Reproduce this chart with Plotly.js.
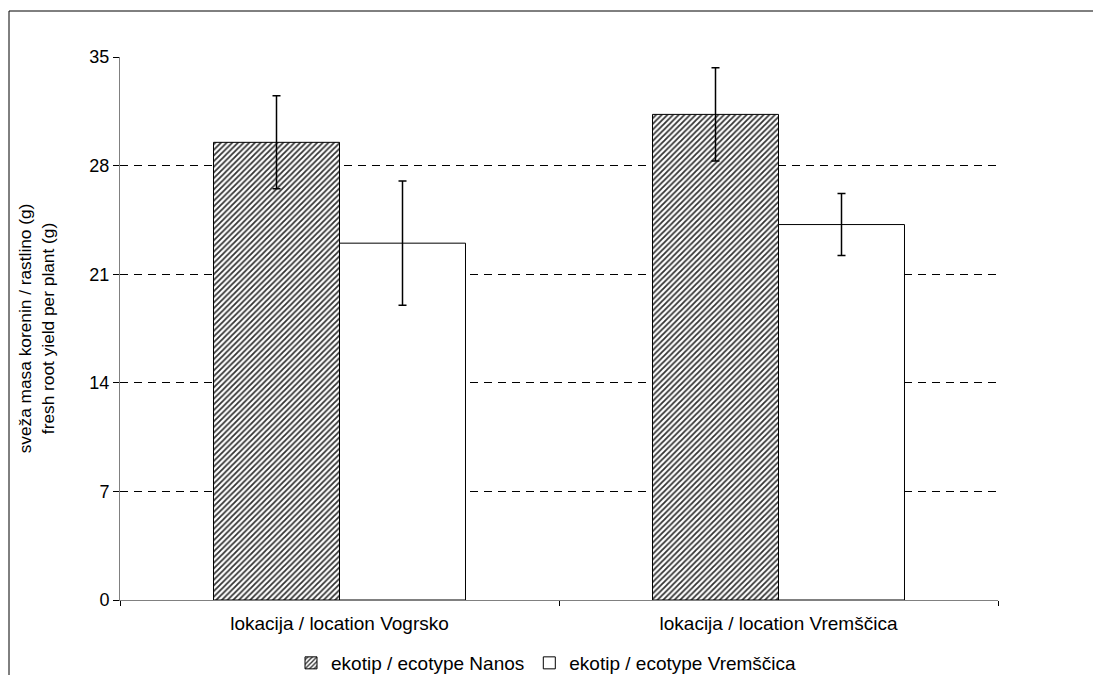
<!DOCTYPE html>
<html>
<head>
<meta charset="utf-8">
<script src="https://cdn.plot.ly/plotly-3.0.1.min.js"></script>
<style>
html,body{margin:0;padding:0;background:#fff;}
#chart{width:1093px;height:675px;}
</style>
</head>
<body>
<div id="chart"></div>
<script>
const categories = ["lokacija / location Vogrsko", "lokacija / location Vremščica"];
const seriesNames = ["ekotip / ecotype Nanos", "ekotip / ecotype Vremščica"];
const nanosValues = [29.5, 31.3];
const nanosErrors = [3.0, 3.0];
const vremscicaValues = [23.0, 24.2];
const vremscicaErrors = [4.0, 2.0];
const yTicks = [0, 7, 14, 21, 28, 35];

const fam = "Liberation Sans, Arial, sans-serif";
const font = {family: fam, size: 19, color: "#000"};
const tickFont = {family: fam, size: 18, color: "#000"};
const titleFont = {family: fam, size: 17.3, color: "#000"};

const traces = [
  {
    type: "bar",
    name: seriesNames[0],
    x: categories,
    y: nanosValues,
    marker: {
      color: "#ffffff",
      line: {color: "#000", width: 1},
      pattern: {shape: "/", fgcolor: "#333333", bgcolor: "#ffffff", size: 4, solidity: 0.45}
    },
    error_y: {type: "data", array: nanosErrors, visible: true, color: "#000", thickness: 1.5, width: 4}
  },
  {
    type: "bar",
    name: seriesNames[1],
    x: categories,
    y: vremscicaValues,
    marker: {color: "#ffffff", line: {color: "#000", width: 1}},
    error_y: {type: "data", array: vremscicaErrors, visible: true, color: "#000", thickness: 1.5, width: 4}
  }
];

const L = 120, R = 95, T = 57, B = 75, W = 1093, H = 675;
const pw = W - L - R, ph = H - T - B;

const layout = {
  width: W, height: H,
  margin: {l: L, r: R, t: T, b: B, pad: 0, autoexpand: false},
  paper_bgcolor: "#fff",
  plot_bgcolor: "#fff",
  font: font,
  barmode: "group",
  bargap: 0.426,
  bargroupgap: 0,
  showlegend: true,
  legend: {
    orientation: "h", x: 0.5, xanchor: "center", xref: "container",
    y: 1 - 663 / H, yanchor: "middle", yref: "container",
    font: font, itemwidth: 30, tracegroupgap: 0
  },
  xaxis: {
    type: "category",
    showline: true, linecolor: "#808080", linewidth: 1,
    ticks: "outside", tickson: "boundaries", ticklen: 5, tickcolor: "#000",
    showgrid: false, zeroline: false,
    tickfont: font,
    ticklabelstandoff: 6,
    automargin: false
  },
  yaxis: {
    range: [0, 35],
    tickvals: yTicks,
    ticktext: yTicks.map(String),
    showline: true, linecolor: "#808080", linewidth: 1,
    ticks: "outside", ticklen: 6, tickcolor: "#000",
    showgrid: true, gridcolor: "#000", gridwidth: 1, griddash: "8px,6px",
    zeroline: false,
    tickfont: tickFont,
    automargin: false,
    title: {text: "sveža masa korenin / rastlino (g)<br>fresh root yield per plant (g)", font: titleFont, standoff: 30}
  },
  shapes: [
    {type: "line", xref: "paper", yref: "paper",
     x0: (9 - L) / pw, x1: (9 - L) / pw, y0: 1 + (T - 11) / ph, y1: -(B + 5) / ph,
     line: {color: "#000", width: 1}},
    {type: "line", xref: "paper", yref: "paper",
     x0: (9 - L) / pw, x1: 1 + (R + 5) / pw, y0: 1 + (T - 11) / ph, y1: 1 + (T - 11) / ph,
     line: {color: "#000", width: 1}}
  ]
};

Plotly.newPlot("chart", traces, layout, {displayModeBar: false, staticPlot: true});
</script>
</body>
</html>
